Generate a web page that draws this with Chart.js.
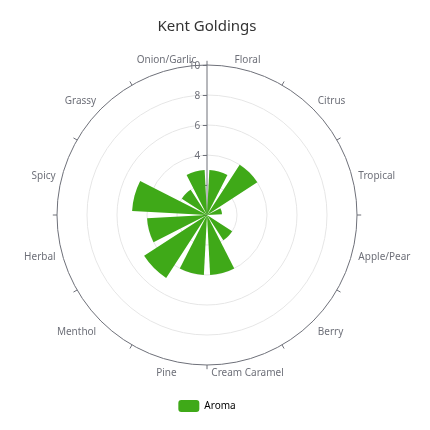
<!DOCTYPE html>
<html>
<head>
<meta charset="utf-8">
<script src="https://cdn.jsdelivr.net/npm/chart.js@4.4.0/dist/chart.umd.min.js"></script>
<style>
html,body{margin:0;padding:0;background:#fff}
#wrap{width:430px;height:430px;position:relative}
</style>
</head>
<body>
<div id="wrap"><canvas id="c"></canvas></div>
<script>
const chartTitle = 'Kent Goldings';
const seriesName = 'Aroma';
const categories = ['Floral','Citrus','Tropical','Apple/Pear','Berry','Cream Caramel','Pine','Menthol','Herbal','Spicy','Grassy','Onion/Garlic'];
const aromaValues = [3, 4, 1, 0, 2, 4, 4, 5, 4, 5, 2, 3];
const radiusTicks = [0, 2, 4, 6, 8, 10];
const radiusMax = 10;

const GREEN = '#3fa918';
const AXIS = '#6e7079';
const SPLIT = '#e6e6e6';
const FONT = "'Noto Sans', sans-serif";

const polarDecor = {
  id: 'polarDecor',
  afterDatasetsUpdate(chart) {
    const meta = chart.getDatasetMeta(0);
    const band = Math.PI * 2 / categories.length;
    const gap = band * 0.1;
    meta.data.forEach(a => { a.startAngle += gap; a.endAngle -= gap; });
  },
  beforeDatasetsDraw(chart) {
    const s = chart.scales.r, ctx = chart.ctx;
    ctx.save();
    ctx.strokeStyle = AXIS; ctx.lineWidth = 1;
    ctx.fillStyle = AXIS; ctx.font = '10px ' + FONT;
    ctx.textAlign = 'right'; ctx.textBaseline = 'middle';
    radiusTicks.forEach(v => {
      const y = Math.round(s.yCenter - s.getDistanceFromCenterForValue(v)) + 0.5;
      ctx.beginPath(); ctx.moveTo(s.xCenter - 4.2, y); ctx.lineTo(s.xCenter, y); ctx.stroke();
      if (v !== 0) ctx.fillText(String(v), s.xCenter - 6.7, y + 1);
    });
    ctx.restore();
  },
  afterDatasetsDraw(chart) {
    const s = chart.scales.r, ctx = chart.ctx;
    const n = categories.length;
    const r = s.drawingArea;
    ctx.save();
    ctx.strokeStyle = AXIS; ctx.lineWidth = 1;
    for (let i = 0; i < n; i++) {
      const p1 = s.getPointPosition(i, r);
      const p2 = s.getPointPosition(i, r + 4.2);
      ctx.beginPath(); ctx.moveTo(p1.x, p1.y); ctx.lineTo(p2.x, p2.y); ctx.stroke();
    }
    ctx.fillStyle = AXIS; ctx.font = '10px ' + FONT; ctx.textBaseline = 'middle';
    const d = r + 6.7;
    categories.forEach((lab, i) => {
      const p = s.getPointPosition(i, d, Math.PI / n);
      const dx = p.x - s.xCenter, dy = p.y - s.yCenter;
      ctx.textAlign = Math.abs(dx) / d < 0.3 ? 'center' : (dx > 0 ? 'left' : 'right');
      const off = Math.abs(dy) / d < 0.3 ? 0 : (dy > 0 ? 5 : -5);
      ctx.fillText(lab, p.x, p.y + off + 1.5);
    });
    ctx.restore();
  }
};

new Chart(document.getElementById('c'), {
  type: 'polarArea',
  data: {
    labels: categories,
    datasets: [{ label: seriesName, data: aromaValues, backgroundColor: GREEN, borderWidth: 0 }]
  },
  options: {
    responsive: true,
    maintainAspectRatio: false,
    animation: false,
    layout: { padding: { top: 0, left: 57, right: 73, bottom: 8 } },
    scales: {
      r: {
        min: 0, max: radiusMax, startAngle: 0,
        ticks: { display: false, stepSize: 2 },
        pointLabels: { display: false },
        grid: { circular: true, lineWidth: 1, color: c => (c.tick && c.tick.value === radiusMax) ? AXIS : SPLIT },
        angleLines: { display: true, lineWidth: 1, color: c => c.index === 0 ? AXIS : 'rgba(0,0,0,0)' }
      }
    },
    plugins: {
      title: { display: true, text: chartTitle, color: '#333', font: { size: 15, family: FONT, weight: 'normal' }, padding: { top: 18, bottom: 4 } },
      legend: {
        display: true, position: 'bottom',
        labels: {
          boxWidth: 21, boxHeight: 12, padding: 10, color: '#333',
          font: { size: 10, family: FONT },
          generateLabels: () => [{ text: seriesName, fillStyle: GREEN, strokeStyle: GREEN, lineWidth: 0, hidden: false, datasetIndex: 0, borderRadius: 3 }]
        }
      },
      tooltip: { enabled: false }
    }
  },
  plugins: [polarDecor]
});
</script>
</body>
</html>
